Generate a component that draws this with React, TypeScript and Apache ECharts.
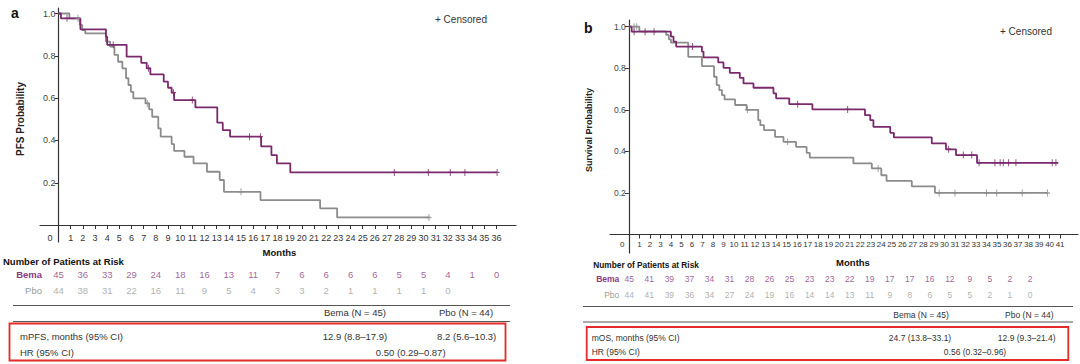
import React, { useEffect, useRef } from 'react';
import * as echarts from 'echarts';

// ---------- Data: panel a (PFS) ----------
const pfsBemaT = [0, 0.2, 1.8, 3.9, 4.0, 5.6, 6.8, 7.25, 7.55, 8.65, 9.0, 9.3, 9.5, 11.25, 13.05, 13.5, 14.1, 16.65, 17.5, 17.95, 19.05, 36.05];
const pfsBemaS = [1.0, 0.977, 0.925, 0.89, 0.852, 0.796, 0.767, 0.741, 0.712, 0.678, 0.649, 0.626, 0.591, 0.556, 0.484, 0.449, 0.418, 0.372, 0.331, 0.292, 0.249, 0.249];
const pfsBemaCens = [0.7, 4.5, 7.4, 9.45, 11.0, 15.7, 16.6, 27.6, 30.4, 32.2, 33.4, 36.05];

const pfsPboT = [0, 0.9, 1.75, 1.95, 2.2, 3.9, 4.25, 4.6, 4.9, 5.25, 5.55, 5.75, 5.95, 6.15, 7.15, 7.45, 7.7, 8.2, 8.4, 9.3, 9.5, 10.35, 11.1, 12.2, 13.25, 13.6, 16.6, 21.5, 22.9, 30.45];
const pfsPboS = [1.0, 0.977, 0.946, 0.922, 0.906, 0.867, 0.843, 0.804, 0.772, 0.741, 0.694, 0.662, 0.63, 0.599, 0.575, 0.547, 0.512, 0.457, 0.418, 0.383, 0.351, 0.323, 0.292, 0.252, 0.213, 0.157, 0.118, 0.079, 0.036, 0.036];
const pfsPboCens = [1.6, 7.3, 15.0, 30.45];

const riskMonthsA = [0, 2, 4, 6, 8, 10, 12, 14, 16, 18, 20, 22, 24, 26, 28, 30, 32, 34, 36];
const riskBemaA = [45, 36, 33, 29, 24, 18, 16, 13, 11, 7, 6, 6, 6, 6, 5, 5, 4, 1, 0];
const riskPboA = [44, 38, 31, 22, 16, 11, 9, 5, 4, 3, 3, 2, 1, 1, 1, 1, 0];
const xLabelsA = Array.from({ length: 37 }, (_, i) => i);

// ---------- Data: panel b (OS) ----------
const osBemaT = [0, 0.27, 4.0, 4.25, 4.5, 6.95, 7.1, 8.5, 9.0, 9.6, 10.55, 10.9, 11.85, 13.75, 14.0, 15.25, 17.45, 22.45, 22.95, 23.25, 24.85, 25.2, 28.8, 30.15, 31.1, 33.1, 40.8];
const osBemaS = [1.0, 0.976, 0.952, 0.928, 0.904, 0.88, 0.852, 0.828, 0.802, 0.778, 0.754, 0.727, 0.706, 0.679, 0.655, 0.627, 0.602, 0.574, 0.55, 0.518, 0.489, 0.467, 0.438, 0.41, 0.382, 0.345, 0.345];
const osBemaCens = [0.5, 1.55, 2.4, 6.05, 16.05, 20.8, 30.4, 31.8, 32.6, 33.3, 34.8, 35.3, 35.6, 36.1, 36.8, 40.25, 40.6];

const osPboT = [0, 1.0, 3.55, 3.8, 4.0, 5.65, 6.95, 8.1, 8.35, 8.6, 8.85, 9.1, 10.1, 11.2, 12.3, 12.5, 12.85, 13.9, 14.7, 15.9, 16.9, 17.2, 21.35, 23.1, 24.0, 24.5, 26.9, 29.1, 39.8];
const osPboS = [1.0, 0.977, 0.96, 0.939, 0.923, 0.855, 0.81, 0.759, 0.719, 0.695, 0.671, 0.65, 0.623, 0.6, 0.55, 0.526, 0.502, 0.47, 0.446, 0.422, 0.393, 0.37, 0.342, 0.318, 0.285, 0.258, 0.232, 0.2, 0.2];
const osPboCens = [0.5, 0.75, 11.27, 15.1, 23.7, 29.5, 31.0, 34.0, 34.97, 37.4, 39.8];

const riskMonthsB = [0, 2, 4, 6, 8, 10, 12, 14, 16, 18, 20, 22, 24, 26, 28, 30, 32, 34, 36, 38, 40];
const riskBemaB = [45, 41, 39, 37, 34, 31, 28, 26, 25, 23, 23, 22, 19, 17, 17, 16, 12, 9, 5, 2, 2];
const riskPboB = [44, 41, 39, 36, 34, 27, 24, 19, 16, 14, 14, 13, 11, 9, 8, 6, 5, 5, 2, 1, 0];
const xLabelsB = Array.from({ length: 42 }, (_, i) => i);

const yTicks = [0.2, 0.4, 0.6, 0.8, 1.0];

// ---------- Styles ----------
const FF = '"Liberation Sans", Arial, Helvetica, sans-serif';
const PURPLE = '#7a2a6c';
const PURPLE_TXT = '#8a3a7e';
const GRAY = '#8c8c8c';
const GRAY_TXT = '#9c9c9c';
const AXIS = '#333';
const PLUS = 'path://M4,0h2v10h-2zM0,4h10v2h-10z';

const zip = (t: number[], s: number[]) => t.map((v, i) => [v, s[i]]);
const survAt = (t: number[], s: number[], x: number) => {
  let v = s[0];
  for (let i = 0; i < t.length; i++) if (t[i] <= x) v = s[i];
  return v;
};
const censData = (c: number[], t: number[], s: number[]) => c.map((x) => [x, survAt(t, s, x)]);

function txt(text: string, x: number, y: number, o: any = {}) {
  const align = o.align || 'left';
  return {
    type: 'text',
    x,
    y,
    rotation: o.rotation || 0,
    silent: true,
    style: {
      text,
      fill: o.color || '#222',
      fontSize: o.size || 9.5,
      fontWeight: o.bold ? 'bold' : 'normal',
      fontFamily: FF,
      align,
      textAlign: align,
      verticalAlign: 'middle',
      textVerticalAlign: 'middle',
    },
  };
}
function hline(x1: number, x2: number, y: number, color = '#555', w = 1) {
  return { type: 'line', silent: true, shape: { x1, y1: y, x2, y2: y }, style: { stroke: color, lineWidth: w } };
}
function redBox(x: number, y: number, w: number, h: number) {
  return { type: 'rect', silent: true, shape: { x, y, width: w, height: h }, style: { fill: 'none', stroke: '#e32b2b', lineWidth: 1.8 } };
}

function plotXAxis(gridIndex: number, min: number, max: number, labels: number[], size: number, margin: number, zeroPad: number, offset: number) {
  return {
    type: 'value',
    gridIndex,
    min,
    max,
    position: 'bottom',
    offset,
    axisLine: { show: true, onZero: false, lineStyle: { color: AXIS, width: 1.2 } },
    axisTick: { show: true, inside: false, length: 4, customValues: labels.filter((v) => v > 0), lineStyle: { color: AXIS, width: 1 } },
    axisLabel: {
      show: true,
      customValues: labels,
      margin,
      fontSize: size,
      color: AXIS,
      fontFamily: FF,
      formatter: (v: number) => (v === 0 ? '{z|0}' : String(v)),
      rich: { z: { padding: [0, zeroPad, 0, 0], fontSize: size, color: AXIS, fontFamily: FF } },
    },
    splitLine: { show: false },
  };
}
function plotYAxis(gridIndex: number, min: number, max: number, size: number, offset: number) {
  return {
    type: 'value',
    gridIndex,
    min,
    max,
    position: 'left',
    offset,
    axisLine: { show: true, onZero: false, lineStyle: { color: AXIS, width: 1.2 } },
    axisTick: { show: true, inside: false, length: 4, customValues: yTicks, lineStyle: { color: AXIS, width: 1 } },
    axisLabel: {
      show: true,
      customValues: yTicks,
      margin: 3,
      fontSize: size,
      color: '#444',
      fontFamily: FF,
      formatter: (v: number) => v.toFixed(1),
    },
    splitLine: { show: false },
  };
}
function hiddenX(gridIndex: number, min: number, max: number) {
  return { type: 'value', gridIndex, min, max, show: false, splitLine: { show: false } };
}
function hiddenY(gridIndex: number) {
  return { type: 'category', gridIndex, data: ['Bema', 'Pbo'], inverse: true, show: false };
}
function kmLine(xi: number, data: number[][], color: string) {
  return {
    type: 'line',
    xAxisIndex: xi,
    yAxisIndex: xi,
    step: 'end',
    symbol: 'none',
    data,
    silent: true,
    lineStyle: { color, width: 1.8 },
    z: color === PURPLE ? 4 : 3,
  };
}
function censors(xi: number, data: number[][], color: string) {
  return {
    type: 'scatter',
    xAxisIndex: xi,
    yAxisIndex: xi,
    symbol: PLUS,
    symbolSize: [5, 7],
    data,
    silent: true,
    itemStyle: { color },
    z: 5,
  };
}
function riskRow(xi: number, months: number[], vals: number[], row: string, color: string, size: number) {
  return {
    type: 'scatter',
    xAxisIndex: xi,
    yAxisIndex: xi,
    symbolSize: 1,
    silent: true,
    itemStyle: { color: 'rgba(0,0,0,0)' },
    data: vals.map((v, i) => [months[i], row, v]),
    label: {
      show: true,
      position: 'inside',
      formatter: (p: any) => String(p.value[2]),
      color,
      fontSize: size,
      fontFamily: FF,
    },
  };
}

export default function App() {
  const ref = useRef<HTMLDivElement>(null);
  useEffect(() => {
    if (!ref.current) return;
    const chart = echarts.init(ref.current, undefined, { renderer: 'svg' });
    const option: any = {
      animation: false,
      textStyle: { fontFamily: FF },
      grid: [
        { left: 40, top: 8, width: 476, height: 234 },
        { left: 610, top: 20, width: 468, height: 233 },
        { left: 40, top: 266.5, width: 476, height: 31.4 },
        { left: 629.3, top: 271, width: 400.7, height: 32 },
      ],
      xAxis: [
        plotXAxis(0, -1.52, 37.6, xLabelsA, 9, 8, 17, -16.9),
        plotXAxis(1, -1.79, 42.7, xLabelsB, 8, 6, 13, -18.5),
        hiddenX(2, -1.52, 37.6),
        hiddenX(3, 0, 40),
      ],
      yAxis: [
        plotYAxis(0, -0.08, 1.026, 9, -18.5),
        plotYAxis(1, -0.089, 1.032, 8.5, -18.8),
        hiddenY(2),
        hiddenY(3),
      ],
      series: [
        kmLine(0, zip(pfsPboT, pfsPboS), GRAY),
        kmLine(0, zip(pfsBemaT, pfsBemaS), PURPLE),
        censors(0, censData(pfsPboCens, pfsPboT, pfsPboS), GRAY),
        censors(0, censData(pfsBemaCens, pfsBemaT, pfsBemaS), PURPLE),
        kmLine(1, zip(osPboT, osPboS), GRAY),
        kmLine(1, zip(osBemaT, osBemaS), PURPLE),
        censors(1, censData(osPboCens, osPboT, osPboS), GRAY),
        censors(1, censData(osBemaCens, osBemaT, osBemaS), PURPLE),
        riskRow(2, riskMonthsA, riskBemaA, 'Bema', PURPLE_TXT, 9.5),
        riskRow(2, riskMonthsA, riskPboA, 'Pbo', GRAY_TXT, 9.5),
        riskRow(3, riskMonthsB, riskBemaB, 'Bema', PURPLE_TXT, 8.5),
        riskRow(3, riskMonthsB, riskPboB, 'Pbo', GRAY_TXT, 8.5),
      ],
      graphic: [
        // Panel a
        txt('a', 11, 13, { size: 14, bold: true, color: '#111' }),
        txt('PFS Probability', 20, 119, { size: 10, bold: true, align: 'center', rotation: Math.PI / 2, color: '#222' }),
        txt('+ Censored', 435, 19, { size: 10, color: '#333' }),
        txt('Months', 279.5, 252.7, { size: 9.5, bold: true, align: 'center', color: '#111' }),
        txt('Number of Patients at Risk', 3, 261, { size: 9.5, bold: true, color: '#111' }),
        txt('Bema', 42, 274.3, { size: 9.5, bold: true, align: 'right', color: PURPLE_TXT }),
        txt('Pbo', 42, 290, { size: 9.5, align: 'right', color: GRAY_TXT }),
        hline(13, 510, 305.5, '#555', 1.2),
        txt('Bema (N = 45)', 355, 312.7, { size: 9.5, align: 'center', color: '#333' }),
        txt('Pbo (N = 44)', 466, 312.7, { size: 9.5, align: 'center', color: '#333' }),
        hline(13, 510, 321.5, '#555', 1.2),
        redBox(9.5, 323.5, 496, 37),
        txt('mPFS, months (95% CI)', 20, 336.5, { size: 9.5, color: '#333' }),
        txt('12.9 (8.8–17.9)', 355, 336.5, { size: 9.5, align: 'center', color: '#333' }),
        txt('8.2 (5.6–10.3)', 466.7, 336.5, { size: 9.5, align: 'center', color: '#333' }),
        txt('HR (95% CI)', 20, 352.5, { size: 9.5, color: '#333' }),
        txt('0.50 (0.29–0.87)', 410.7, 352.5, { size: 9.5, align: 'center', color: '#333' }),
        // Panel b
        txt('b', 584, 28, { size: 14, bold: true, color: '#111' }),
        txt('Survival Probability', 589.3, 130, { size: 9, bold: true, align: 'center', rotation: Math.PI / 2, color: '#222' }),
        txt('+ Censored', 1000, 31.7, { size: 10, color: '#333' }),
        txt('Months', 853, 262, { size: 9.5, bold: true, align: 'center', color: '#111' }),
        txt('Number of Patients at Risk', 593.3, 265, { size: 8.3, bold: true, color: '#111' }),
        txt('Bema', 619.3, 279, { size: 8.5, bold: true, align: 'right', color: PURPLE_TXT }),
        txt('Pbo', 619.3, 295, { size: 8.5, align: 'right', color: GRAY_TXT }),
        hline(583, 1073, 306.5, '#555', 1.2),
        txt('Bema (N = 45)', 921, 315, { size: 8.5, align: 'center', color: '#333' }),
        txt('Pbo (N = 44)', 1029.3, 315, { size: 8.5, align: 'center', color: '#333' }),
        hline(583, 1073, 322, '#555', 1.2),
        redBox(586.7, 327, 481.6, 33),
        txt('mOS, months (95% CI)', 591.7, 337.7, { size: 8.5, color: '#333' }),
        txt('24.7 (13.8–33.1)', 920, 337.7, { size: 8.5, align: 'center', color: '#333' }),
        txt('12.9 (9.3–21.4)', 1026.7, 337.7, { size: 8.5, align: 'center', color: '#333' }),
        txt('HR (95% CI)', 591.7, 351.7, { size: 8.5, color: '#333' }),
        txt('0.56 (0.32–0.96)', 975, 351.7, { size: 8.5, align: 'center', color: '#333' }),
      ],
    };
    chart.setOption(option);
    return () => chart.dispose();
  }, []);
  return (
    <div
      ref={ref}
      style={{ position: 'absolute', left: 0, top: 0, width: 1080, height: 364, background: '#fff' }}
    />
  );
}
